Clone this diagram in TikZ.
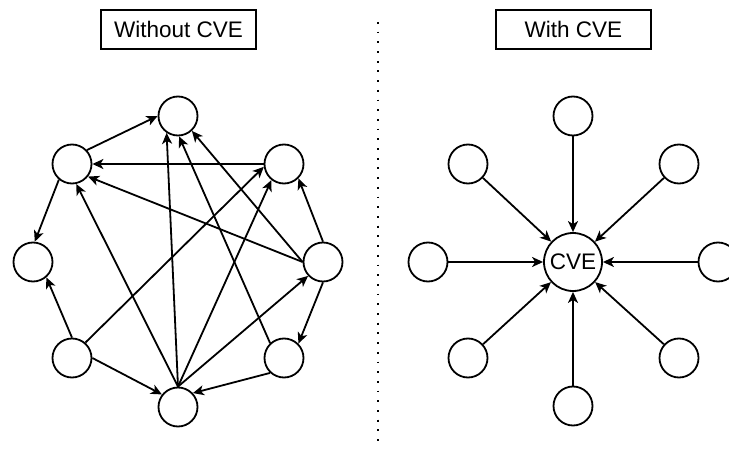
\documentclass[tikz,border=0pt]{standalone}
\usepackage{fontspec}
\setmainfont{Liberation Sans}
\usetikzlibrary{arrows.meta}
\begin{document}
\begin{tikzpicture}[x=1pt,y=-1pt,
  vtx/.style={circle,draw,line width=1.8pt,minimum size=39pt,inner sep=0pt},
  hub/.style={circle,draw,line width=1.8pt,minimum size=58pt,inner sep=0pt,font=\fontsize{22.5}{24}\selectfont},
  title/.style={draw,line width=1.8pt,minimum width=155pt,minimum height=39pt,inner sep=0pt,font=\fontsize{22.5}{24}\selectfont},
  arr/.style={line width=1.8pt,-{Stealth[length=11pt,width=10pt,inset=3pt]}}]
\clip (0,0) rectangle (729,452);
\fill[white] (0,0) rectangle (729,452);
% titles
\node[title] (t1) at (178.5,29.5) {Without CVE};
\node[title] (t2) at (573.5,29.5) {With CVE};
% divider
\coordinate (d1) at (378,22);
\coordinate (d2) at (378,448);
\draw[line width=1.8pt,dash pattern=on 1.8pt off 7.9pt] (d1) -- (d2);
% left graph
\node[vtx] (T)  at (178,116) {};
\node[vtx] (UL) at (72,164) {};
\node[vtx] (UR) at (284,164) {};
\node[vtx] (L)  at (33,262) {};
\node[vtx] (R)  at (323,262) {};
\node[vtx] (LL) at (72,358) {};
\node[vtx] (LR) at (284,358) {};
\node[vtx] (B)  at (178,407) {};
\draw[arr] (UL.43) -- (T.west);
\draw[arr] (UR.west) -- (UL.east);
\draw[arr] (R.west) -- (UL.-38);
\draw[arr] (UL.-130) -- (L.85);
\draw[arr] (B.north) -- (UL.-78);
\draw[arr] (B.north) -- (T.-124);
\draw[arr] (LR.133) -- (T.-87);
\draw[arr] (R.west) -- (T.-47);
\draw[arr] (LL.49) -- (UR.188);
\draw[arr] (B.north) -- (UR.-128);
\draw[arr] (R.north) -- (UR.-45);
\draw[arr] (LL.north) -- (L.-49);
\draw[arr] (LL.east) -- (B.142);
\draw[arr] (B.north) -- (R.-137);
\draw[arr] (R.south) -- (LR.45);
\draw[arr] (LR.-133) -- (B.43);
% right graph
\node[hub] (C) at (573,262) {CVE};
\node[vtx] (rT)  at (573,116) {};
\node[vtx] (rUL) at (468,164) {};
\node[vtx] (rUR) at (679,164) {};
\node[vtx] (rL)  at (428,262) {};
\node[vtx] (rR)  at (718,262) {};
\node[vtx] (rLL) at (468,358) {};
\node[vtx] (rLR) at (679,358) {};
\node[vtx] (rB)  at (573,406) {};
\foreach \n in {rT,rUL,rUR,rL,rR,rLL,rLR,rB}
  \draw[arr] (\n) -- (C);
\end{tikzpicture}
\end{document}
